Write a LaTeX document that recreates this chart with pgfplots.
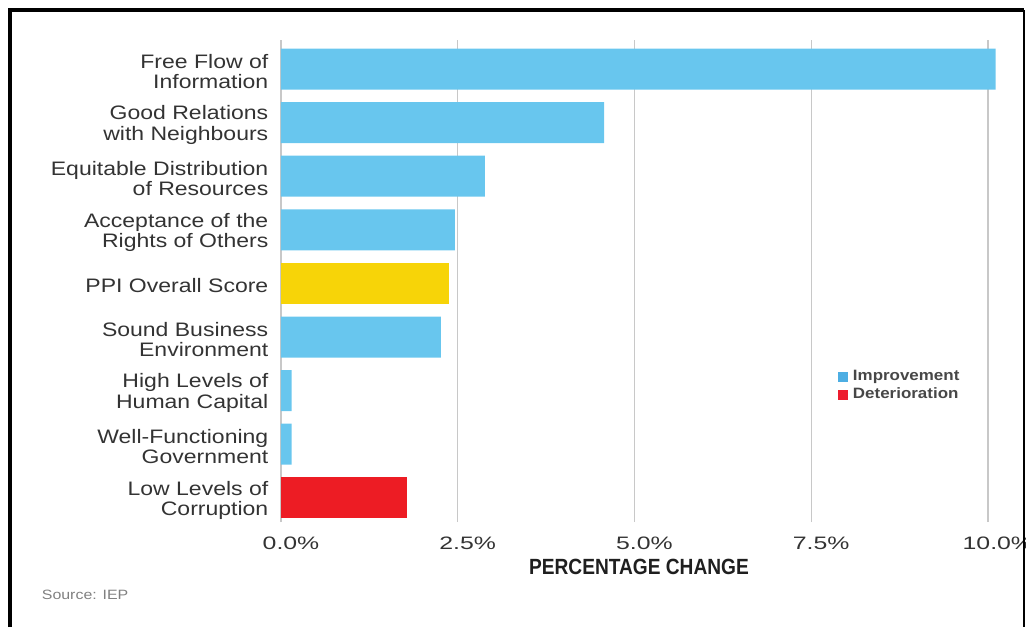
\documentclass[border=0pt]{standalone}
\usepackage{pgfplots}
\pgfplotsset{compat=1.18}
\usepackage{fontspec}
\setmainfont{Liberation Sans}[FakeStretch=1.18]
\newfontfamily\titlefont{Liberation Sans}[FakeStretch=0.87]
\newfontfamily\tickfont{Liberation Sans}[FakeStretch=1.38]
\newfontfamily\legfont{Liberation Sans}[FakeStretch=1.13]
\definecolor{barblue}{HTML}{68C6EE}
\definecolor{baryellow}{HTML}{F7D408}
\definecolor{barred}{HTML}{ED1C24}
\definecolor{legblue}{HTML}{4DAEE3}
\definecolor{legred}{HTML}{ED1C2E}
\definecolor{labelgray}{HTML}{333333}
\definecolor{gridgray}{HTML}{C8C8C8}
\begin{document}
\begin{tikzpicture}
\path[use as bounding box] (0,0) rectangle (1026pt,-627pt);
\begin{axis}[
  at={(281pt,-522pt)}, anchor=south west,
  scale only axis,
  width=721pt, height=482pt,
  xmin=0, xmax=10.2,
  ymin=-0.451, ymax=8.541,
  xbar, bar width=41pt, bar shift=0pt,
  axis line style={draw=none},
  major tick length=0pt,
  xmajorgrids, grid style={gridgray, line width=1.3pt},
  xtick={0,2.5,5,7.5,10},
  xticklabel={\pgfmathprintnumber[fixed,fixed zerofill,precision=1]{\tick}\%},
  /pgf/number format/assume math mode=true,
  xticklabel style={anchor=base, yshift=-27pt, xshift=10pt, inner sep=0pt, font=\tickfont\fontsize{18}{18}\selectfont, text=labelgray},
  ytick={0,...,8},
  yticklabels={{Low Levels of\\Corruption},{Well-Functioning\\Government},{High Levels of\\Human Capital},{Sound Business\\Environment},{PPI Overall Score},{Acceptance of the\\Rights of Others},{Equitable Distribution\\of Resources},{Good Relations\\with Neighbours},{Free Flow of\\Information}},
  yticklabel style={align=right, anchor=east, inner sep=0pt, xshift=-12.5pt, yshift=-2.5pt, font=\fontsize{19.5}{20.5}\selectfont, text=labelgray},
  xlabel={\titlefont\bfseries PERCENTAGE CHANGE},
  x label style={at={(axis description cs:0.4965,0)}, anchor=base, yshift=-52pt, inner sep=0pt, font=\fontsize{22}{22}\selectfont, text=black!88},
  legend image code/.code={\fill[#1, draw=none] (0pt,-5pt) rectangle (10pt,5pt);},
  legend style={at={(axis description cs:0.7725,0.3167)}, anchor=north west, draw=none, fill=none, inner sep=0pt, outer sep=0pt, row sep=3pt,
    font=\legfont\fontsize{15}{15}\selectfont\bfseries, text=black!72,
    nodes={inner sep=0pt, text height=11pt, text depth=4pt},
    /tikz/every odd column/.append style={column sep=5pt}},
  legend cell align=left,
]
\addplot[fill=barblue, draw=none, forget plot] coordinates {
  (0.15,1) (0.15,2) (2.26,3) (2.46,5) (2.885,6) (4.57,7) (10.11,8)
};
\addplot[fill=baryellow, draw=none, forget plot] coordinates {(2.38,4)};
\addplot[fill=barred, draw=none, forget plot] coordinates {(1.78,0)};
\addlegendimage{fill=legblue, draw=none}
\addlegendentry{Improvement}
\addlegendimage{fill=legred, draw=none}
\addlegendentry{Deterioration}
\end{axis}
\node[anchor=base west, inner sep=0pt, font=\fontsize{13.5}{13.5}\selectfont, text=black!50] at (41.7pt,-599pt) {Source: IEP};
\draw[black, line width=4pt] (9.5pt,-627pt) -- (9.5pt,-10.3pt) -- (1023.7pt,-10.3pt);
\draw[black, line width=2pt] (1023.7pt,-10.3pt) -- (1023.7pt,-627pt);
\end{tikzpicture}
\end{document}
